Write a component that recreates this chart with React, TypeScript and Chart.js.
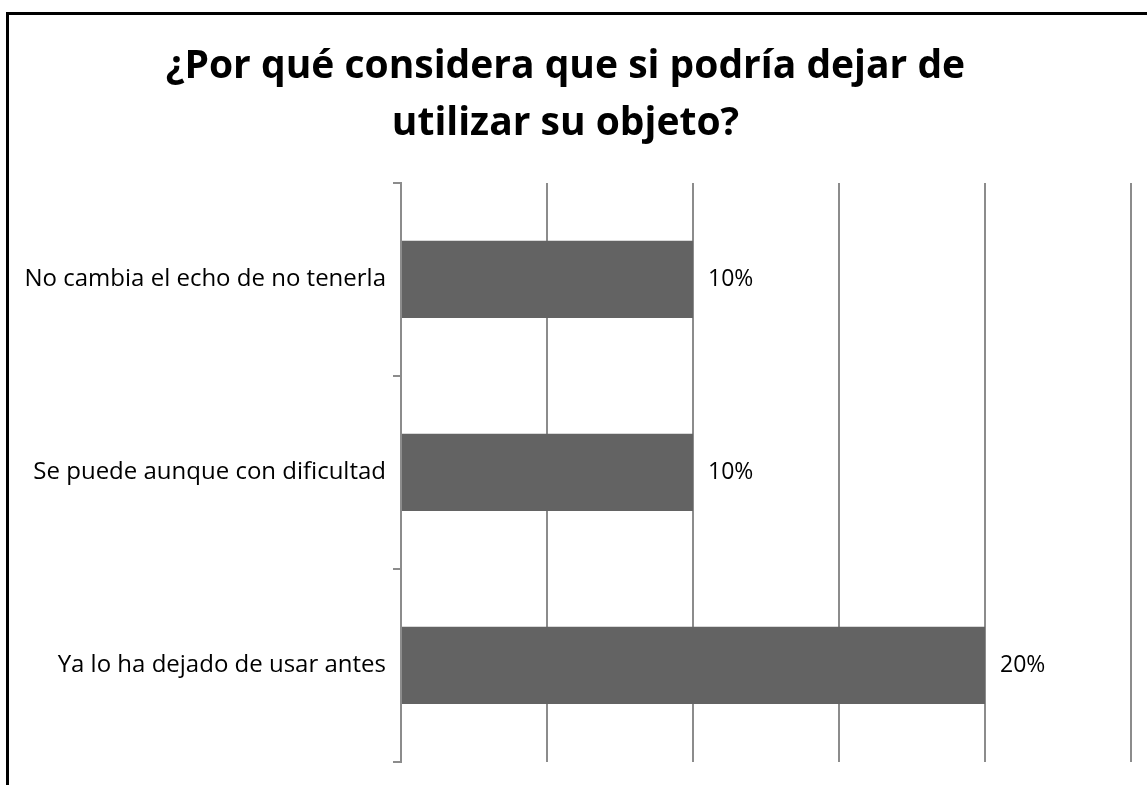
import React, { useEffect, useRef } from "react";
import { Chart, registerables } from "chart.js";

Chart.register(...registerables);

const titleLines = ["¿Por qué considera que si podría dejar de", "utilizar su objeto?"];
const categories = [
  "No cambia el echo de no tenerla",
  "Se puede aunque con dificultad",
  "Ya lo ha dejado de usar antes",
];
const values = [10, 10, 20];
const valueLabels = ["10%", "10%", "20%"];
const xMin = 0;
const xMax = 25;
const xStep = 5;

const FONT = "'Open Sans', 'DejaVu Sans', sans-serif";

const framePlugin = {
  id: "frame",
  beforeDraw(chart: any) {
    const ctx = chart.ctx;
    ctx.save();
    ctx.fillStyle = "#ffffff";
    ctx.fillRect(0, 0, chart.width, chart.height);
    ctx.strokeStyle = "#000000";
    ctx.lineWidth = 3;
    ctx.beginPath();
    ctx.moveTo(7.5, chart.height + 5);
    ctx.lineTo(7.5, 13.5);
    ctx.lineTo(chart.width + 5, 13.5);
    ctx.stroke();
    ctx.restore();
  },
};

const valueLabelPlugin = {
  id: "valueLabels",
  afterDatasetsDraw(chart: any) {
    const ctx = chart.ctx;
    const meta = chart.getDatasetMeta(0);
    ctx.save();
    ctx.fillStyle = "#000000";
    ctx.font = `23px ${FONT}`;
    ctx.textAlign = "left";
    ctx.textBaseline = "middle";
    meta.data.forEach((bar: any, i: number) => {
      ctx.fillText(valueLabels[i], bar.x + 15, bar.y);
    });
    ctx.restore();
  },
};

export default function App() {
  const ref = useRef<HTMLCanvasElement | null>(null);

  useEffect(() => {
    if (!ref.current) return;
    const chart = new Chart(ref.current, {
      type: "bar",
      data: {
        labels: categories,
        datasets: [
          {
            data: values,
            backgroundColor: "#636363",
            borderWidth: 0,
            categoryPercentage: 1,
            barPercentage: 0.4,
          },
        ],
      },
      options: {
        indexAxis: "y",
        animation: false,
        responsive: false,
        maintainAspectRatio: false,
        layout: { padding: { left: 0, right: 16, top: 0, bottom: 23 } },
        plugins: {
          legend: { display: false },
          tooltip: { enabled: false },
          title: {
            display: true,
            text: titleLines,
            color: "#000000",
            font: { family: FONT, size: 39, weight: "bold", lineHeight: 1.46 },
            padding: { top: 38, bottom: 31 },
          },
        },
        scales: {
          x: {
            min: xMin,
            max: xMax,
            ticks: { display: false, stepSize: xStep },
            grid: { color: "#8c8c8c", lineWidth: 2, drawTicks: false },
            border: { display: false },
            afterFit: (scale: any) => {
              scale.height = 0;
            },
          },
          y: {
            ticks: {
              color: "#000000",
              font: { family: FONT, size: 24 },
              padding: 7,
            },
            grid: {
              offset: true,
              drawOnChartArea: false,
              drawTicks: true,
              tickLength: 8,
              color: "#8c8c8c",
              lineWidth: 2,
            },
            border: { display: true, color: "#8c8c8c", width: 2 },
            afterFit: (scale: any) => {
              scale.width = 401;
            },
          },
        },
      },
      plugins: [framePlugin, valueLabelPlugin],
    });
    return () => chart.destroy();
  }, []);

  return (
    <div style={{ position: "fixed", left: 0, top: 0, width: 1147, height: 785 }}>
      <canvas ref={ref} width={1147} height={785} style={{ display: "block" }} />
    </div>
  );
}
